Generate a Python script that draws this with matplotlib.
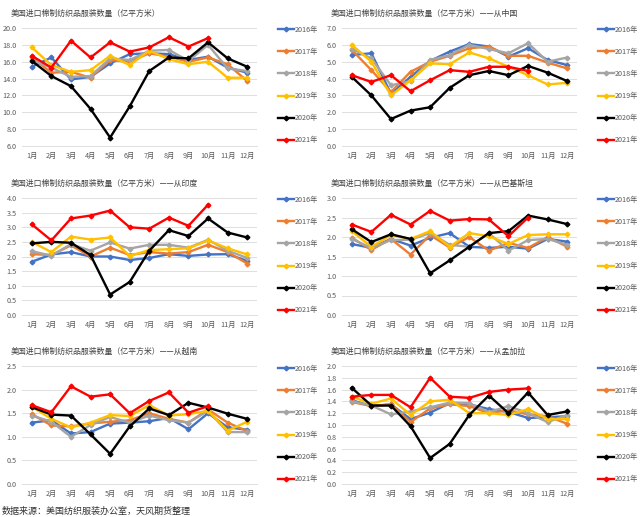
import matplotlib
matplotlib.use("Agg")
import matplotlib.pyplot as plt
import numpy as np

plt.rcParams['font.family'] = ['Noto Sans CJK SC', 'DejaVu Sans']

months = [f"{i}月" for i in range(1, 13)]
years = ["2016年", "2017年", "2018年", "2019年", "2020年", "2021年"]
colors = ["#4472C4", "#ED7D31", "#A5A5A5", "#FFC000", "#000000", "#FF0000"]

title_base = "美国进口棉制纺织品服装数量（亿平方米）"
titles = [title_base, title_base + "——从中国", title_base + "——从印度",
          title_base + "——从巴基斯坦", title_base + "——从越南", title_base + "——从孟加拉"]

total = [
    [15.4, 16.5, 13.9, 14.2, 15.8, 16.9, 17.0, 16.9, 16.2, 16.6, 15.3, 14.7],
    [16.5, 14.7, 14.8, 14.1, 16.2, 16.0, 17.0, 16.6, 16.0, 16.5, 15.7, 13.7],
    [16.2, 15.3, 14.2, 14.3, 16.4, 16.2, 17.3, 17.4, 16.1, 18.0, 15.2, 14.9],
    [17.7, 15.6, 14.8, 15.0, 16.7, 15.6, 17.3, 16.3, 15.7, 16.0, 14.1, 14.1],
    [16.1, 14.3, 13.1, 10.4, 7.0, 10.7, 14.9, 16.5, 16.4, 18.3, 16.4, 15.4],
    [16.7, 15.3, 18.5, 16.5, 18.3, 17.2, 17.7, 18.9, 17.8, 18.8],
]
china = [
    [5.4, 5.5, 3.1, 4.1, 5.05, 5.6, 6.05, 5.9, 5.3, 5.8, 5.1, 4.8],
    [5.7, 4.5, 3.2, 4.4, 5.0, 5.35, 5.8, 5.9, 5.35, 5.35, 4.95, 4.6],
    [5.75, 5.2, 3.6, 3.85, 5.1, 5.4, 6.0, 5.75, 5.5, 6.1, 5.0, 5.25],
    [6.0, 5.0, 3.0, 3.9, 4.9, 4.85, 5.55, 5.2, 4.7, 4.2, 3.65, 3.75],
    [4.1, 3.0, 1.6, 2.1, 2.3, 3.45, 4.2, 4.45, 4.2, 4.75, 4.35, 3.85],
    [4.2, 3.8, 4.2, 3.25, 3.9, 4.5, 4.4, 4.7, 4.7, 4.45],
]
india = [
    [1.82, 2.07, 2.15, 2.0, 2.0, 1.88, 1.95, 2.08, 2.02, 2.07, 2.08, 1.85],
    [2.08, 2.05, 2.38, 2.0, 2.3, 2.05, 2.15, 2.1, 2.15, 2.4, 2.15, 1.76],
    [2.18, 2.03, 2.42, 2.2, 2.48, 2.27, 2.4, 2.4, 2.3, 2.57, 2.2, 1.95],
    [2.5, 2.15, 2.68, 2.58, 2.65, 2.02, 2.22, 2.25, 2.28, 2.55, 2.28, 2.07],
    [2.45, 2.5, 2.47, 2.05, 0.7, 1.13, 2.2, 2.9, 2.7, 3.3, 2.82, 2.65],
    [3.1, 2.55, 3.3, 3.4, 3.57, 3.0, 2.95, 3.33, 3.05, 3.77],
]
pakistan = [
    [1.82, 1.72, 1.95, 1.78, 1.98, 2.1, 1.75, 1.72, 1.75, 1.7, 1.95, 1.88],
    [1.98, 1.67, 1.95, 1.55, 2.05, 1.73, 2.0, 1.65, 1.85, 1.72, 2.0, 1.75],
    [1.95, 1.72, 1.92, 1.93, 2.1, 1.8, 1.75, 2.1, 1.65, 1.92, 1.95, 1.8],
    [2.15, 1.75, 2.05, 1.95, 2.15, 1.75, 2.1, 2.02, 1.82, 2.05, 2.07, 2.07],
    [2.2, 1.87, 2.07, 1.95, 1.07, 1.4, 1.75, 2.1, 2.15, 2.55, 2.45, 2.33],
    [2.32, 2.13, 2.57, 2.32, 2.67, 2.42, 2.46, 2.45, 2.02, 2.5],
]
vietnam = [
    [1.3, 1.35, 1.07, 1.1, 1.28, 1.3, 1.33, 1.4, 1.16, 1.5, 1.2, 1.15],
    [1.48, 1.24, 1.22, 1.28, 1.32, 1.35, 1.5, 1.38, 1.3, 1.58, 1.3, 1.12],
    [1.45, 1.32, 1.0, 1.25, 1.42, 1.3, 1.45, 1.35, 1.3, 1.55, 1.1, 1.1],
    [1.64, 1.38, 1.2, 1.3, 1.46, 1.44, 1.67, 1.45, 1.48, 1.55, 1.13, 1.32],
    [1.63, 1.47, 1.45, 1.05, 0.64, 1.22, 1.6, 1.46, 1.72, 1.62, 1.49, 1.38],
    [1.67, 1.52, 2.07, 1.85, 1.9, 1.5, 1.76, 1.94, 1.51, 1.65],
]
bangladesh = [
    [1.42, 1.32, 1.35, 1.1, 1.21, 1.37, 1.35, 1.27, 1.22, 1.12, 1.13, 1.15],
    [1.39, 1.32, 1.35, 1.05, 1.28, 1.35, 1.32, 1.2, 1.25, 1.18, 1.15, 1.02],
    [1.4, 1.33, 1.18, 1.23, 1.3, 1.38, 1.37, 1.22, 1.32, 1.2, 1.05, 1.17],
    [1.48, 1.36, 1.45, 1.17, 1.4, 1.43, 1.2, 1.2, 1.17, 1.27, 1.1, 1.1],
    [1.63, 1.33, 1.33, 0.98, 0.44, 0.68, 1.17, 1.5, 1.2, 1.55, 1.17, 1.23],
    [1.48, 1.51, 1.51, 1.3, 1.8, 1.48, 1.46, 1.56, 1.6, 1.62],
]

datasets = [total, china, india, pakistan, vietnam, bangladesh]
yranges = [(6, 20, 2), (0, 7, 1), (0, 4, 0.5), (0, 3, 0.5), (0, 2.5, 0.5), (0, 2.0, 0.2)]

W, H = 640, 517
fig = plt.figure(figsize=(W / 100, H / 100), dpi=100)
fig.patch.set_facecolor("white")

cols = [(22, 257), (342, 577)]
rows = [(28, 146), (198, 315), (366, 484)]
title_y = [13, 183, 351]
legend_center = [85, 255, 424]

for idx, data in enumerate(datasets):
    r, c = divmod(idx, 2)
    x0, x1 = cols[c]
    y0, y1 = rows[r]
    ax = fig.add_axes([x0 / W, 1 - y1 / H, (x1 - x0) / W, (y1 - y0) / H])
    ymin, ymax, step = yranges[idx]
    for yi, (vals, col, lab) in enumerate(zip(data, colors, years)):
        ax.plot(months[:len(vals)], vals, color=col, lw=1.7, marker="D",
                markersize=2.4, label=lab, zorder=3 + (yi >= 4))
    ax.set_xlim(-0.5, 11.5)
    ax.set_ylim(ymin, ymax)
    ticks = np.arange(ymin, ymax + step / 2, step)
    ax.set_yticks(ticks)
    ax.set_yticklabels([f"{t:.1f}" for t in ticks])
    ax.grid(axis="y", color="#D9D9D9", lw=0.6)
    ax.set_axisbelow(True)
    for s in ["top", "right", "left"]:
        ax.spines[s].set_visible(False)
    ax.spines["bottom"].set_color("#D9D9D9")
    ax.spines["bottom"].set_linewidth(0.6)
    ax.tick_params(axis="both", length=0, labelsize=5.2, colors="#595959", pad=4)
    lx = (x1 + 21) / W
    ly = 1 - legend_center[r] / H
    ax.legend(loc="center left", bbox_to_anchor=(lx, ly), bbox_transform=fig.transFigure,
              frameon=False, fontsize=5.2, labelspacing=1.95, handlelength=2.2,
              handletextpad=0.1, labelcolor="#595959", borderaxespad=0, borderpad=0)
    fig.text((x0 - 11) / W, 1 - title_y[r] / H, titles[idx],
             fontsize=5.7, color="#404040", va="center", ha="left")

fig.text(2 / W, 1 - 511 / H, "数据来源：美国纺织服装办公室，天风期货整理",
         fontsize=6.5, color="#333333", va="center", ha="left")

fig.savefig("out.png", dpi=100, facecolor="white")
